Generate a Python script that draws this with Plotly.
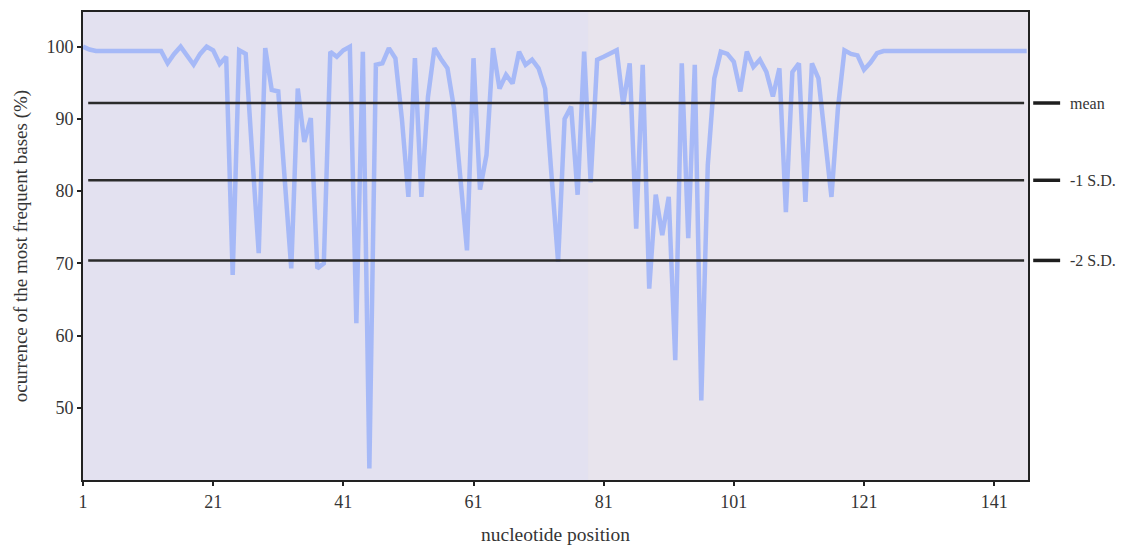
import plotly.graph_objects as go

# nucleotide positions 1..146
positions = list(range(1, 147))

# occurrence of the most frequent base (%) per position
occurrence = [
    100.0, 99.6, 99.4, 99.4, 99.4, 99.4, 99.4, 99.4, 99.4, 99.4,   # 1-10
    99.4, 99.4, 99.4, 97.7, 99.0, 100.0, 98.8, 97.5, 99.0, 100.0,   # 11-20
    99.5, 97.6, 98.6, 68.4, 99.5, 99.0, 85.0, 71.4, 99.8, 94.0,     # 21-30
    93.8, 81.0, 69.3, 94.2, 86.8, 90.1, 69.3, 70.0, 99.3, 98.6,     # 31-40
    99.5, 100.0, 61.7, 99.3, 41.6, 97.5, 97.7, 99.8, 98.4, 90.0,    # 41-50
    79.2, 98.4, 79.2, 93.0, 99.8, 98.3, 97.0, 91.5, 82.0, 71.8,     # 51-60
    98.4, 80.2, 85.0, 99.8, 94.2, 96.1, 94.9, 99.3, 97.5, 98.2,     # 61-70
    97.0, 94.2, 82.0, 70.2, 90.0, 91.7, 79.5, 99.3, 81.2, 98.2,     # 71-80
    98.6, 99.1, 99.5, 92.0, 97.7, 74.8, 97.5, 66.5, 79.5, 73.9,     # 81-90
    79.2, 56.6, 97.7, 73.5, 97.5, 51.0, 83.6, 95.6, 99.3, 99.0,     # 91-100
    97.9, 93.8, 99.3, 97.2, 98.2, 96.5, 93.1, 97.0, 77.1, 96.5,     # 101-110
    97.7, 78.5, 97.7, 95.6, 88.0, 79.2, 91.5, 99.5, 99.0, 98.8,     # 111-120
    96.8, 97.8, 99.1, 99.4, 99.4, 99.4, 99.4, 99.4, 99.4, 99.4,     # 121-130
    99.4, 99.4, 99.4, 99.4, 99.4, 99.4, 99.4, 99.4, 99.4, 99.4,     # 131-140
    99.4, 99.4, 99.4, 99.4, 99.4, 99.4,                             # 141-146
]

# reference lines
ref_names = ["mean", "-1 S.D.", "-2 S.D."]
ref_values = [92.2, 81.5, 70.4]

x_ticks = [1, 21, 41, 61, 81, 101, 121, 141]
y_ticks = [50, 60, 70, 80, 90, 100]

FONT = "Liberation Serif, DejaVu Serif, serif"
TXT = "#353535"
X0, X1 = 1, 146.2
Y0, Y1 = 40, 104.8

fig = go.Figure()

fig.add_trace(go.Scatter(
    x=positions, y=occurrence, mode="lines",
    line=dict(color="rgba(155,178,248,0.85)", width=4.5),
    hoverinfo="x+y", showlegend=False,
))

shapes = []
# slightly greyer right part of the plot background
shapes.append(dict(type="rect", xref="x", yref="y", x0=78.6, x1=X1, y0=Y0, y1=Y1,
                   fillcolor="rgba(232,228,236,0.9)", line=dict(width=0), layer="below"))
for v in ref_values:
    shapes.append(dict(type="line", xref="x", yref="y", x0=1.8, x1=145.6, y0=v, y1=v,
                       line=dict(color="#2b2b2b", width=2.5), layer="above"))
    shapes.append(dict(type="line", xref="paper", yref="y", x0=1.0055, x1=1.034, y0=v, y1=v,
                       line=dict(color="#1e1e1e", width=3.5)))
fig.update_layout(shapes=shapes)

for name, v in zip(ref_names, ref_values):
    fig.add_annotation(x=1.042, xref="paper", y=v, yref="y", text=name, showarrow=False,
                       xanchor="left", yanchor="middle",
                       font=dict(family=FONT, size=16, color=TXT))

fig.update_xaxes(
    range=[X0, X1], tickvals=x_ticks, ticktext=[str(t) for t in x_ticks],
    ticks="outside", ticklen=4, tickwidth=1.5, tickcolor="#222",
    showgrid=False, zeroline=False, showline=True, linecolor="#222", linewidth=2, mirror=True,
    tickfont=dict(family=FONT, size=18, color=TXT),
    title=dict(text="nucleotide position", font=dict(family=FONT, size=19.5, color=TXT), standoff=17),
)
fig.update_yaxes(
    range=[Y0, Y1], tickvals=y_ticks, ticktext=[str(t) for t in y_ticks],
    ticks="outside", ticklen=4, tickwidth=1.5, tickcolor="#222",
    showgrid=False, zeroline=False, showline=True, linecolor="#222", linewidth=2, mirror=True,
    tickfont=dict(family=FONT, size=18, color=TXT),
    title=dict(text="ocurrence of the most frequent bases (%)",
               font=dict(family=FONT, size=19, color=TXT), standoff=14),
)

# the page body has an 8px margin, so the figure is shrunk by 8px and margins shifted
fig.update_layout(
    width=1117, height=541,
    margin=dict(l=75, r=97, t=2, b=69),
    paper_bgcolor="white", plot_bgcolor="#e3e1f0",
    showlegend=False,
)

fig.write_html("out.html")
